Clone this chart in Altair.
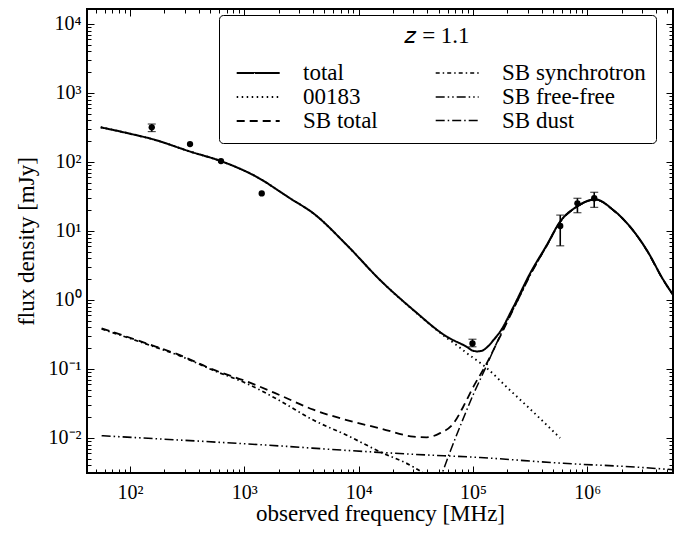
import altair as alt
import pandas as pd

# ---------------- values (log10 MHz, log10 mJy) ----------------
total_lf = [1.744, 2.0, 2.199, 2.528, 2.80, 3.155, 3.312, 3.40, 3.604, 3.896, 4.187, 4.479,
            4.771, 4.946, 5.0, 5.04, 5.08, 5.12, 5.18, 5.237, 5.354, 5.50, 5.646, 5.762,
            5.908, 6.068, 6.228, 6.374, 6.52, 6.666, 6.753]
total_ls = [2.503, 2.41, 2.33, 2.15, 2.01, 1.74, 1.57, 1.474, 1.256, 0.797, 0.29, -0.145,
            -0.531, -0.68, -0.735, -0.745, -0.735, -0.69, -0.58, -0.46, -0.10, 0.386, 0.797,
            1.135, 1.353, 1.459, 1.304, 1.063, 0.725, 0.29, 0.07]

dotted_lf = [1.744, 2.0, 2.199, 2.528, 2.80, 3.155, 3.312, 3.40, 3.604, 3.896, 4.187, 4.479,
             4.771, 4.87, 4.946, 5.062, 5.123, 5.3, 5.5, 5.762]
dotted_ls = [2.503, 2.41, 2.33, 2.15, 2.01, 1.74, 1.57, 1.474, 1.256, 0.797, 0.29, -0.15,
             -0.55, -0.67, -0.77, -0.91, -0.99, -1.27, -1.58, -2.0]

sbtot_lf = [1.752, 2.146, 2.437, 2.729, 3.02, 3.312, 3.604, 3.896, 4.187, 4.479, 4.595, 4.712,
            4.829, 4.914, 5.003, 5.12, 5.237, 5.354, 5.50, 5.646, 5.762, 5.908, 6.068, 6.228,
            6.374, 6.52, 6.666, 6.753]
sbtot_ls = [-0.41, -0.63, -0.80, -1.01, -1.18, -1.38, -1.59, -1.74, -1.86, -1.98, -1.99, -1.93,
            -1.79, -1.55, -1.26, -0.92, -0.53, -0.13, 0.37, 0.79, 1.13, 1.35, 1.455, 1.30,
            1.06, 0.72, 0.285, 0.065]

synch_lf = [1.752, 2.146, 2.437, 2.729, 3.02, 3.312, 3.604, 3.896, 4.187, 4.479, 4.60, 4.70]
synch_ls = [-0.42, -0.64, -0.81, -1.02, -1.21, -1.46, -1.74, -1.96, -2.20, -2.42, -2.55, -2.70]

ff_lf = [1.752, 2.437, 3.312, 3.896, 4.479, 5.062, 5.79, 6.46, 6.753]
ff_ls = [-1.967, -2.03, -2.115, -2.18, -2.236, -2.283, -2.367, -2.425, -2.46]

dust_lf = [4.70, 4.80, 4.90, 5.00, 5.10, 5.20, 5.30, 5.40, 5.50, 5.646, 5.762, 5.908, 6.068,
           6.228, 6.374, 6.52, 6.666, 6.753]
dust_ls = [-2.65, -2.20, -1.78, -1.38, -1.02, -0.65, -0.30, 0.02, 0.355, 0.788, 1.128, 1.35,
           1.455, 1.30, 1.06, 0.72, 0.285, 0.065]

# measured photometry (MHz, mJy)
pt_freq = [155, 335, 625, 1420, 9.9e4, 5.8e5, 8.2e5, 1.15e6]
pt_flux = [318, 182, 103, 35, 0.235, 11.8, 25.2, 29.8]
pt_lo = [276, 182, 103, 35, 0.21, 6.1, 18.4, 22.0]
pt_hi = [355, 182, 103, 35, 0.27, 17.0, 29.8, 36.4]

# legend is filled column by column
comp_order = ['total', '00183', 'SB total', 'SB synchrotron', 'SB free-free', 'SB dust']
comp_dash = [[1, 0], [1.5, 3.5], [8, 5], [4, 3, 1.5, 3], [9, 3, 1.5, 3, 1.5, 3], [9, 3, 1.5, 3]]
comp_width = [2.0, 1.5, 1.5, 1.5, 1.5, 1.5]

# ---------------- tables ----------------
series = {
    'total': (total_lf, total_ls),
    '00183': (dotted_lf, dotted_ls),
    'SB total': (sbtot_lf, sbtot_ls),
    'SB synchrotron': (synch_lf, synch_ls),
    'SB free-free': (ff_lf, ff_ls),
    'SB dust': (dust_lf, dust_ls),
}
rows = []
for name, (lf, ls) in series.items():
    for a, b in zip(lf, ls):
        rows.append({'comp': name, 'freq': 10 ** a, 'flux': 10 ** b})
lines_df = pd.DataFrame(rows)
pts_df = pd.DataFrame({'freq': pt_freq, 'flux': pt_flux, 'lo': pt_lo, 'hi': pt_hi})

FONT = 'Liberation Serif'
XMIN, XMAX = 42.07, 5.62e6
YMIN, YMAX = 0.00311, 16490
xs = alt.Scale(type='log', domain=[XMIN, XMAX], nice=False)
ys = alt.Scale(type='log', domain=[YMIN, YMAX], nice=False)

e = "round(log(datum.value)/LN10)"
x_lab = (f"{e}==2?'10²':{e}==3?'10³':{e}==4?'10⁴':{e}==5?'10⁵':{e}==6?'10⁶':''")
y_lab = (f"{e}==-2?'10⁻²':{e}==-1?'10⁻¹':{e}==0?'10⁰':{e}==1?'10¹':{e}==2?'10²':"
         f"{e}==3?'10³':{e}==4?'10⁴':''")

x_major = [1e2, 1e3, 1e4, 1e5, 1e6]
y_major = [1e-2, 1e-1, 1e0, 1e1, 1e2, 1e3, 1e4]
x_minor = [k * 10 ** p for p in range(1, 7) for k in range(2, 10) if XMIN < k * 10 ** p < XMAX]
y_minor = [k * 10.0 ** p for p in range(-3, 5) for k in range(2, 10) if YMIN < k * 10.0 ** p < YMAX]

x_main = alt.Axis(orient='bottom', values=x_major, labelExpr=x_lab, ticks=False, domain=False,
                  grid=False, title='observed frequency [MHz]', labelFont=FONT, labelFontSize=20,
                  labelPadding=9, labelColor='black', titleFont=FONT, titleFontSize=23,
                  titleFontWeight='normal', titleColor='black', titlePadding=0, labelFlush=False,
                  labelOverlap=False)
y_main = alt.Axis(orient='left', values=y_major, labelExpr=y_lab, ticks=False, domain=False,
                  grid=False, title='flux density [mJy]', labelFont=FONT, labelFontSize=20,
                  labelPadding=6, labelColor='black', titleFont=FONT, titleFontSize=23,
                  titleFontWeight='normal', titleColor='black', titlePadding=10, labelFlush=False,
                  labelOverlap=False)


def tick_axis(orient, values, size):
    return alt.Axis(orient=orient, values=values, labels=False, domain=False, grid=False,
                    title=None, ticks=True, tickSize=size, offset=-size, tickColor='black',
                    tickWidth=1)


legend = alt.Legend(title='𝑧 = 1.1', orient='none', legendX=132, legendY=6, columns=2,
                    symbolType='M-0.4,0L3.6,0', symbolSize=462, symbolStrokeWidth=1.6,
                    symbolStrokeColor='black', symbolFillColor='transparent',
                    labelFont=FONT, labelFontSize=23,
                    labelColor='black', titleFont=FONT, titleFontSize=23,
                    titleFontWeight='normal', titleColor='black', titleAnchor='middle',
                    fillColor='white', strokeColor='black', padding=10, cornerRadius=4,
                    rowPadding=0, columnPadding=50, labelOffset=50, titlePadding=13,
                    labelLimit=400)

lines = alt.Chart(lines_df).mark_line(clip=True, color='black', interpolate='monotone').encode(
    x=alt.X('freq:Q', scale=xs, axis=x_main),
    y=alt.Y('flux:Q', scale=ys, axis=y_main),
    strokeDash=alt.StrokeDash('comp:N', scale=alt.Scale(domain=comp_order, range=comp_dash),
                              legend=legend),
    strokeWidth=alt.StrokeWidth('comp:N', scale=alt.Scale(domain=comp_order, range=comp_width),
                                legend=None),
    detail='comp:N',
)

err_base = alt.Chart(pts_df).transform_filter('datum.hi > datum.lo')
errs = err_base.mark_rule(color='black', strokeWidth=1.6).encode(
    x=alt.X('freq:Q', scale=xs, axis=None),
    y=alt.Y('lo:Q', scale=ys, axis=None), y2='hi:Q')
cap_lo = err_base.mark_tick(color='black', orient='horizontal', size=8, thickness=1.2).encode(
    x=alt.X('freq:Q', scale=xs, axis=None), y=alt.Y('lo:Q', scale=ys, axis=None))
cap_hi = err_base.mark_tick(color='black', orient='horizontal', size=8, thickness=1.2).encode(
    x=alt.X('freq:Q', scale=xs, axis=None), y=alt.Y('hi:Q', scale=ys, axis=None))
points = alt.Chart(pts_df).mark_point(filled=True, color='black', size=40, opacity=1).encode(
    x=alt.X('freq:Q', scale=xs, axis=None), y=alt.Y('flux:Q', scale=ys, axis=None))


def ghost(xa, ya):
    return alt.Chart(pts_df).mark_point(opacity=0).encode(
        x=alt.X('freq:Q', scale=xs, axis=xa), y=alt.Y('flux:Q', scale=ys, axis=ya))


t1 = ghost(tick_axis('bottom', x_major, 7), tick_axis('left', y_major, 7))
t2 = ghost(tick_axis('bottom', x_minor, 4), tick_axis('left', y_minor, 4))
t3 = ghost(tick_axis('top', x_major, 7), tick_axis('right', y_major, 7))
t4 = ghost(tick_axis('top', x_minor, 4), tick_axis('right', y_minor, 4))

chart = alt.layer(lines, errs, cap_lo, cap_hi, points, t1, t2, t3, t4).resolve_axis(
    x='independent', y='independent'
).properties(
    width=586, height=464,
    autosize=alt.AutoSizeParams(type='none'),
    padding={'left': 79, 'top': 1, 'right': 5, 'bottom': 56},
    background='white',
).configure_view(stroke='black', strokeWidth=2)

chart.save('out.html', embed_options={'renderer': 'svg', 'actions': False})
